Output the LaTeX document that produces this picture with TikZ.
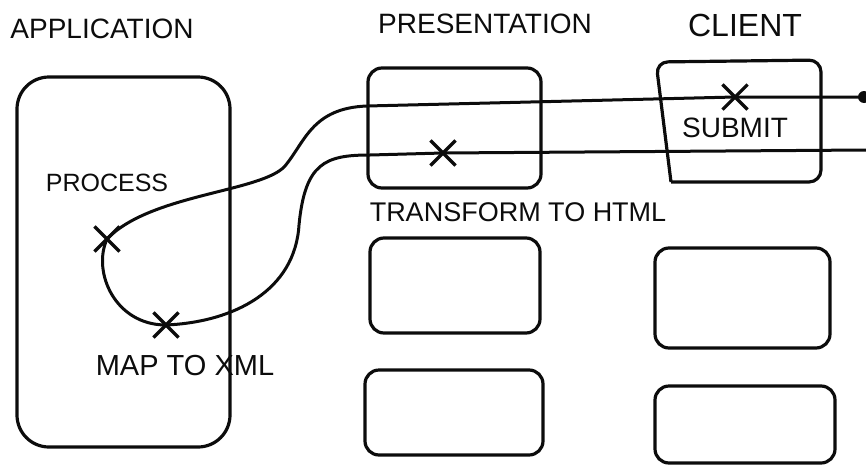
\documentclass[tikz,border=0pt]{standalone}
\usepackage{fontspec}
\setmainfont{Liberation Sans}
\usepackage{tikz}
\usetikzlibrary{positioning,shapes.misc}
\definecolor{inkc}{RGB}{12,12,12}
\tikzset{
  panel/.style = {draw=inkc, line width=3.2pt, rounded corners=14pt, inner sep=0pt},
  tier/.style  = {font=\fontsize{28}{30}\selectfont, text=inkc, inner sep=0pt},
  note/.style  = {font=\fontsize{27}{29}\selectfont, text=inkc, inner sep=0pt},
  xmark/.style = {cross out, draw=inkc, line width=3.2pt, minimum size=22pt, inner sep=0pt},
  wire/.style  = {draw=inkc, line width=3pt, line cap=round, line join=round},
}
\begin{document}
\begin{tikzpicture}[x=1pt,y=-1pt]
\useasboundingbox (0,0) rectangle (866,466);

% tier headings
\node[tier] (apptitle) at (102,29) {APPLICATION};
\node[tier] (prestitle) at (485,24) {PRESENTATION};
\node[tier, font=\fontsize{32}{34}\selectfont] (clienttitle) at (745,25) {CLIENT};

% application tier
\node[panel, rounded corners=32pt, minimum width=213pt, minimum height=370pt] (app) at (123.5,262) {};

% presentation tier
\node[panel, minimum width=173pt, minimum height=120pt] (pres1) at (454.5,128) {};
\node[panel, minimum width=170pt, minimum height=95pt] (pres2) at (455,285.5) {};
\node[panel, minimum width=178pt, minimum height=85pt] (pres3) at (454,412.5) {};

% client tier
\draw[panel, rounded corners=12pt] (671,182) -- (656,62) -- (821,60) -- (821,182) -- (671,182);
\node[panel, minimum width=175pt, minimum height=100pt] (client2) at (742.5,298) {};
\node[panel, minimum width=180pt, minimum height=77pt] (client3) at (745,424.5) {};

% step labels
\node[note, font=\fontsize{25}{27}\selectfont] (process) at (107,183) {PROCESS};
\node[note, font=\fontsize{29}{31}\selectfont] (maptoxml) at (185,366) {MAP TO XML};
\node[note] (tohtml) at (518,212) {TRANSFORM TO HTML};
\node[note, font=\fontsize{28}{30}\selectfont] (submit) at (735,128) {SUBMIT};

% request path
\node[circle, fill=inkc, minimum size=12pt, inner sep=0pt] (tip) at (864,97) {};
\coordinate (wireend) at (866,150);
\node[xmark] (xsubmit) at (735,97) {};
\node[xmark] (xprocess) at (107,239) {};
\node[xmark] (xmap) at (166,325) {};
\node[xmark] (xhtml) at (443,153) {};

\draw[wire] (tip.center) -- (xsubmit.center) -- (367,106)
  .. controls (312,108) and (305,142) .. (285,166)
  .. controls (262,192) and (150,194) .. (xprocess.center)
  .. controls (92,272) and (115,325) .. (xmap.center)
  .. controls (235,322) and (295,290) .. (299,225)
  .. controls (305,163) and (325,155) .. (370,155)
  -- (xhtml.center) -- (wireend);

\end{tikzpicture}
\end{document}
